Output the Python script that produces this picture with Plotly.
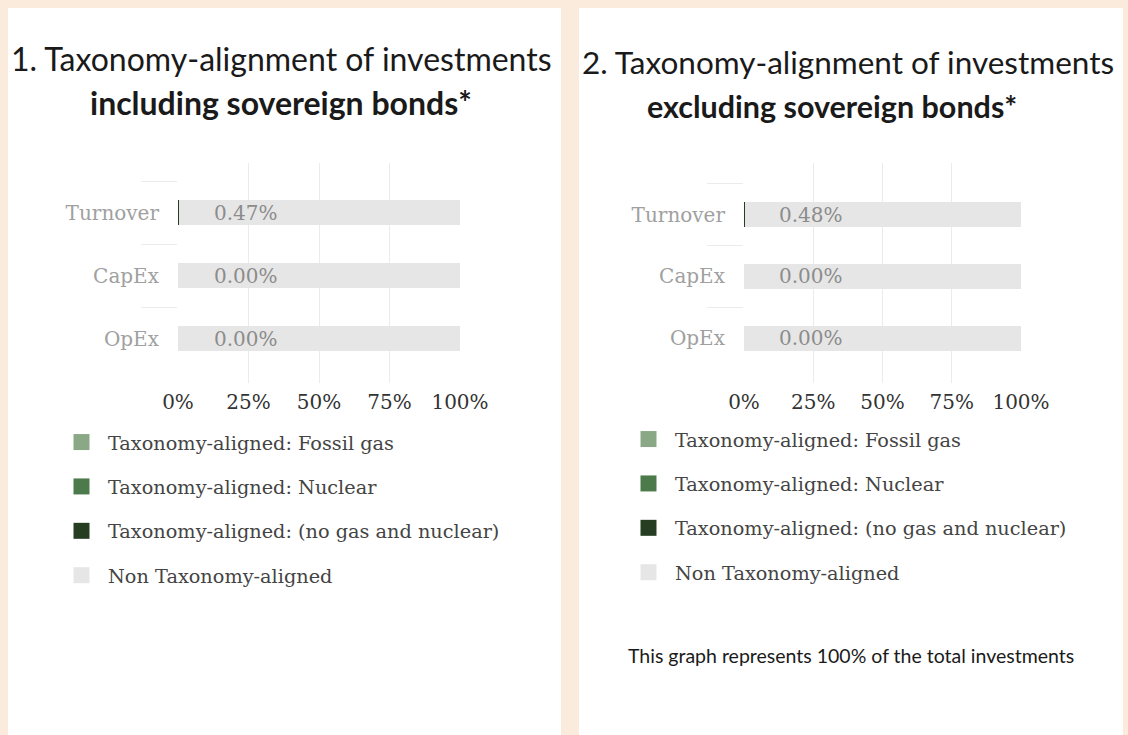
import plotly.graph_objects as go

W, H = 1128, 735

categories = ["Turnover", "CapEx", "OpEx"]
series_names = [
    "Taxonomy-aligned: Fossil gas",
    "Taxonomy-aligned: Nuclear",
    "Taxonomy-aligned: (no gas and nuclear)",
    "Non Taxonomy-aligned",
]
series_colors = ["#8aa886", "#4d7a4a", "#263d22", "#e6e6e6"]

# 1. including sovereign bonds (% of investments)
incl_fossil_gas = [0.0, 0.0, 0.0]
incl_nuclear = [0.0, 0.0, 0.0]
incl_other_aligned = [0.47, 0.0, 0.0]
incl_non_aligned = [99.53, 100.0, 100.0]

# 2. excluding sovereign bonds (% of investments)
excl_fossil_gas = [0.0, 0.0, 0.0]
excl_nuclear = [0.0, 0.0, 0.0]
excl_other_aligned = [0.48, 0.0, 0.0]
excl_non_aligned = [99.52, 100.0, 100.0]

x_tick_values = [0, 25, 50, 75, 100]
x_tick_labels = ["0%", "25%", "50%", "75%", "100%"]

SERIF = "DejaVu Serif"
TITLE_FONT = "Lato"


def px_x(p):
    return p / W


def px_y(p):
    return 1 - p / H


fig = go.Figure()

panels = [
    ("x", "y", "legend", [incl_fossil_gas, incl_nuclear, incl_other_aligned, incl_non_aligned]),
    ("x2", "y2", "legend2", [excl_fossil_gas, excl_nuclear, excl_other_aligned, excl_non_aligned]),
]

for xa, ya, leg, series in panels:
    for i, (name, color, values) in enumerate(zip(series_names, series_colors, series)):
        fig.add_trace(go.Bar(
            x=values, y=categories, orientation="h", name=name,
            marker=dict(color=color, line=dict(width=0)),
            xaxis=xa, yaxis=ya, showlegend=False, hoverinfo="skip",
        ))
        # legend swatch (larger square than the default bar swatch)
        fig.add_trace(go.Scatter(
            x=[None], y=[None], mode="markers", name=name,
            marker=dict(symbol="square", size=16, color=color),
            xaxis=xa, yaxis=ya, legend=leg, legendgroup=f"{leg}-{i}",
            hoverinfo="skip",
        ))
    # label each row with its total aligned share
    aligned = [a + b + c for a, b, c in zip(series[0], series[1], series[2])]
    for cat, v in zip(categories, aligned):
        fig.add_annotation(
            x=12, y=cat, xref=xa, yref=ya, text=f"{v:.2f}%", showarrow=False,
            xanchor="left", font=dict(family=SERIF, size=20, color="#8c8c8c"),
        )

axis_common_x = dict(
    range=[0, 100], tickvals=x_tick_values, ticktext=x_tick_labels,
    showgrid=True, gridcolor="#ebebeb", gridwidth=1, zeroline=False, showline=False,
    ticks="", tickfont=dict(family=SERIF, size=20, color="#333333"),
    ticklabelstandoff=5, fixedrange=True, automargin=False,
)
axis_common_y = dict(
    type="category", categoryorder="array", categoryarray=categories,
    tickson="boundaries", ticks="outside", ticklen=36, tickcolor="#ebebeb", tickwidth=1,
    showgrid=False, zeroline=False, showline=False,
    tickfont=dict(family=SERIF, size=20, color="#a0a0a0"),
    ticklabelstandoff=18, fixedrange=True, automargin=False,
)

plot_top, plot_bottom = 163, 383

legend_common = dict(
    xanchor="left", yanchor="top",
    traceorder="grouped", tracegroupgap=16.3, itemwidth=43, itemsizing="trace",
    font=dict(family=SERIF, size=19.3, color="#444444"),
    bgcolor="rgba(0,0,0,0)",
)

fig.update_layout(
    width=W, height=H,
    margin=dict(l=0, r=0, t=0, b=0, autoexpand=False),
    paper_bgcolor="#fbebdc", plot_bgcolor="white",
    barmode="stack", bargap=0.59,
    xaxis=dict(domain=[px_x(178), px_x(460)], anchor="y", **axis_common_x),
    yaxis=dict(domain=[px_y(plot_bottom), px_y(plot_top)], anchor="x",
               range=[2.706, -0.786], **axis_common_y),
    xaxis2=dict(domain=[px_x(744), px_x(1021)], anchor="y2", **axis_common_x),
    yaxis2=dict(domain=[px_y(plot_bottom), px_y(plot_top)], anchor="x2",
                range=[2.727, -0.840], **axis_common_y),
    legend=dict(x=px_x(55), y=px_y(423), **legend_common),
    legend2=dict(x=px_x(622), y=px_y(420), **legend_common),
    showlegend=True,
)

# white cards behind each chart
for x0, x1 in [(8, 561), (579, 1123)]:
    fig.add_shape(type="rect", xref="paper", yref="paper",
                  x0=px_x(x0), x1=px_x(x1), y0=0, y1=px_y(8),
                  fillcolor="white", line=dict(width=0), layer="below")

titles = [
    ("1. Taxonomy-alignment of investments", 281, 58, 32),
    ("<b>including sovereign bonds*</b>", 281, 102, 32),
    ("2. Taxonomy-alignment of investments", 848, 62, 31.5),
    ("<b>excluding sovereign bonds*</b>", 832, 106, 30.5),
]
for text, cx, cy, size in titles:
    fig.add_annotation(
        x=px_x(cx), y=px_y(cy), xref="paper", yref="paper", text=text,
        showarrow=False, xanchor="center", yanchor="middle",
        font=dict(family=TITLE_FONT, size=size, color="#1a1a1a"),
    )

fig.add_annotation(
    x=px_x(851), y=px_y(655), xref="paper", yref="paper",
    text="This graph represents 100% of the total investments",
    showarrow=False, xanchor="center", yanchor="middle",
    font=dict(family=TITLE_FONT, size=19.5, color="#1a1a1a"),
)

fig.write_html("out.html")
